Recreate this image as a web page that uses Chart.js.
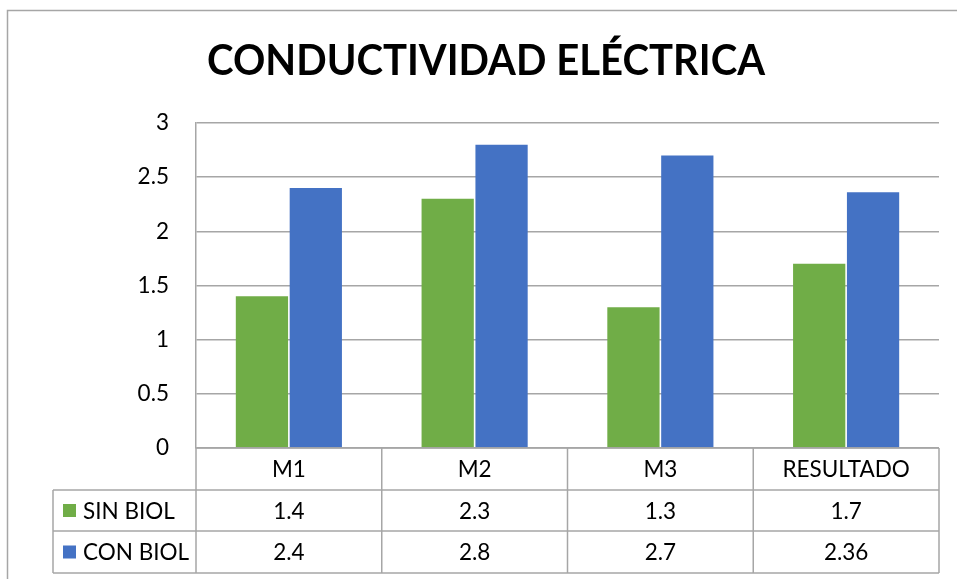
<!DOCTYPE html>
<html>
<head>
<meta charset="utf-8">
<script src="https://cdn.jsdelivr.net/npm/chart.js@4/dist/chart.umd.min.js"></script>
<style>
html,body{margin:0;padding:0;background:#fff;}
canvas{display:block;}
</style>
</head>
<body>
<canvas id="c" width="957" height="579"></canvas>
<script>
const chartTitle = 'CONDUCTIVIDAD ELÉCTRICA';
const categories = ['M1', 'M2', 'M3', 'RESULTADO'];
const seriesNames = ['SIN BIOL', 'CON BIOL'];
const sinBiol = [1.4, 2.3, 1.3, 1.7];
const conBiol = [2.4, 2.8, 2.7, 2.36];
const seriesColors = ['#70AD47', '#4472C4'];
const yTicks = [0, 0.5, 1, 1.5, 2, 2.5, 3];

const FONT = 'Lato, "Open Sans", sans-serif';
const LINE = '#A6A6A6';

const tablePlugin = {
  id: 'tablePlugin',
  afterDraw(chart) {
    const ctx = chart.ctx;
    const xs = chart.scales.x;
    const area = chart.chartArea;
    const n = categories.length;
    const colW = (area.right - area.left) / n;
    const rows = [area.bottom, 490, 531, 573];
    const legendLeft = 53;
    const allSeries = [sinBiol, conBiol];

    ctx.save();
    // outer frame
    ctx.strokeStyle = LINE;
    ctx.lineWidth = 1.5;
    ctx.beginPath();
    ctx.moveTo(7.5, 579);
    ctx.lineTo(7.5, 10.5);
    ctx.lineTo(957, 10.5);
    ctx.stroke();

    // table lines
    ctx.lineWidth = 1.5;
    ctx.beginPath();
    ctx.moveTo(area.left, rows[0]); ctx.lineTo(area.right, rows[0]);
    for (let r = 1; r < rows.length; r++) {
      ctx.moveTo(legendLeft, rows[r]); ctx.lineTo(area.right, rows[r]);
    }
    ctx.moveTo(legendLeft, rows[1]); ctx.lineTo(legendLeft, rows[3]);
    for (let i = 0; i <= n; i++) {
      const x = area.left + i * colW;
      ctx.moveTo(x, rows[0]); ctx.lineTo(x, rows[3]);
    }
    ctx.stroke();

    // texts
    ctx.fillStyle = '#000';
    ctx.font = '22.5px ' + FONT;
    ctx.textAlign = 'center';
    ctx.textBaseline = 'middle';
    categories.forEach((c, i) => {
      const cx = xs.getPixelForValue(i);
      ctx.fillText(c, cx, (rows[0] + rows[1]) / 2 + 1);
      allSeries.forEach((s, k) => {
        ctx.fillText(String(s[i]), cx, (rows[k + 1] + rows[k + 2]) / 2 + 1);
      });
    });
    // legend keys
    seriesNames.forEach((name, k) => {
      const cy = (rows[k + 1] + rows[k + 2]) / 2;
      ctx.fillStyle = seriesColors[k];
      ctx.fillRect(63, cy - 6.5, 13, 13);
      ctx.fillStyle = '#000';
      ctx.textAlign = 'left';
      ctx.fillText(name, 83, cy + 1);
    });

    // title
    ctx.font = 'bold 42px ' + FONT;
    ctx.textAlign = 'left';
    ctx.textBaseline = 'alphabetic';
    const w = ctx.measureText(chartTitle).width;
    const target = 558;
    const sx = target / w;
    ctx.translate(207, 75);
    ctx.scale(sx, 1);
    ctx.fillText(chartTitle, 0, 0);
    ctx.restore();
  }
};

new Chart(document.getElementById('c'), {
  type: 'bar',
  data: {
    labels: categories,
    datasets: [
      { label: seriesNames[0], data: sinBiol, backgroundColor: seriesColors[0],
        categoryPercentage: 0.58, barPercentage: 0.97 },
      { label: seriesNames[1], data: conBiol, backgroundColor: seriesColors[1],
        categoryPercentage: 0.58, barPercentage: 0.97 }
    ]
  },
  options: {
    responsive: false,
    animation: false,
    devicePixelRatio: 1,
    layout: { padding: { left: 0, right: 18, top: 123, bottom: 131 } },
    plugins: {
      legend: { display: false },
      title: { display: false },
      tooltip: { enabled: false }
    },
    scales: {
      x: {
        grid: { display: false },
        border: { display: false },
        ticks: { display: false },
        afterFit(scale) { scale.height = 0; }
      },
      y: {
        min: 0, max: 3,
        afterBuildTicks(scale) { scale.ticks = yTicks.map(v => ({ value: v })); },
        grid: { color: LINE, lineWidth: 1.5, drawTicks: false },
        border: { display: true, color: LINE, width: 1.5 },
        ticks: {
          color: '#000', font: { family: FONT, size: 22.5 }, padding: 27,
          callback: (v) => String(v)
        },
        afterFit(scale) { scale.width = 196; }
      }
    }
  },
  plugins: [tablePlugin]
});
</script>
</body>
</html>
